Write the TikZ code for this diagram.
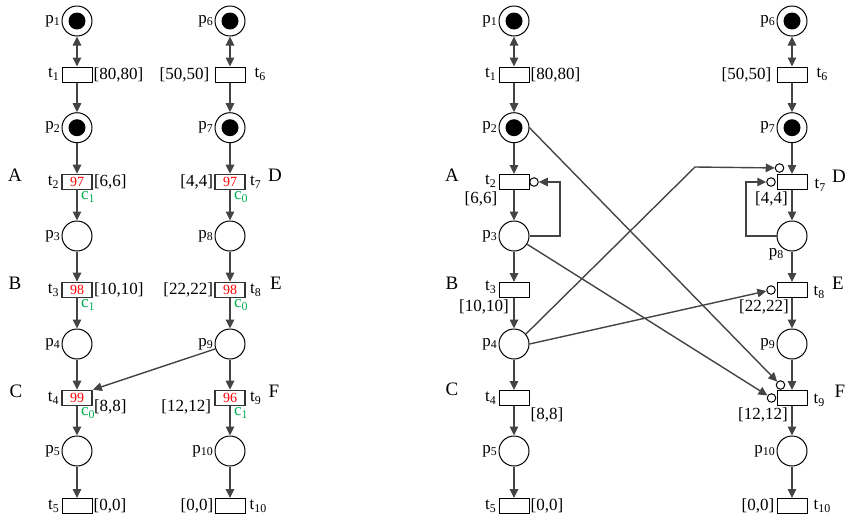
\documentclass[tikz,border=0pt]{standalone}
\usepackage{fontspec}
\setmainfont{Liberation Serif}
\usetikzlibrary{arrows.meta}
\definecolor{cgreen}{HTML}{00B050}
\definecolor{arcgray}{HTML}{444444}
\newcommand\pn[1]{p\textsubscript{#1}}
\newcommand\tn[1]{t\textsubscript{#1}}
\newcommand\cn[1]{c\textsubscript{#1}}
\begin{document}
\begin{tikzpicture}[x=1pt,y=-1pt,
  font=\fontsize{17}{20}\selectfont,
  place/.style={circle,draw,line width=1pt,minimum size=30pt,inner sep=0pt},
  tok/.style={place,path picture={\fill (path picture bounding box.center) circle (8.5pt);}},
  trans/.style={rectangle,draw,line width=1pt,minimum width=30pt,minimum height=15pt,inner sep=0pt},
  ctrans/.style={trans,draw=black!80,line width=1.7pt,font=\fontsize{14}{14}\selectfont,text=red},
  inh/.style={circle,draw,line width=1pt,minimum size=8.5pt,inner sep=0pt},
  arc/.style={draw=arcgray,line width=1.4pt,-{Triangle[length=9pt,width=8.5pt]}},
  darc/.style={draw=arcgray,line width=1.4pt,{Triangle[length=9pt,width=8.5pt]}-{Triangle[length=9pt,width=8.5pt]}},
  lab/.style={inner sep=1pt},
  big/.style={inner sep=0pt,font=\fontsize{19}{20}\selectfont},
  gr/.style={text=cgreen,inner sep=1pt,anchor=north west}
]
\useasboundingbox (0,0) rectangle (846,520);

% ================= LEFT NET =================
\node[tok]    (a1)  at (77,21) {};
\node[trans]  (at1) at (77,74.5) {};
\node[tok]    (a2)  at (77,127.7) {};
\node[ctrans] (at2) at (77,182) {97};
\node[place]  (a3)  at (77,236) {};
\node[ctrans] (at3) at (77,290) {98};
\node[place]  (a4)  at (77,344) {};
\node[ctrans] (at4) at (77,398) {99};
\node[place]  (a5)  at (77,451) {};
\node[trans]  (at5) at (77,506) {};

\node[tok]    (a6)  at (230,21) {};
\node[trans]  (at6) at (230,74.5) {};
\node[tok]    (a7)  at (230,127.7) {};
\node[ctrans] (at7) at (230,182) {97};
\node[place]  (a8)  at (230,236) {};
\node[ctrans] (at8) at (230,290) {98};
\node[place]  (a9)  at (230,344) {};
\node[ctrans] (at9) at (230,398) {96};
\node[place]  (a10) at (230,451) {};
\node[trans]  (at10) at (230,506) {};

% place labels
\foreach \i in {1,...,10} {\node[lab,anchor=east] at (a\i.west) {\pn{\i}};}
% transition labels, left column
\node[lab,anchor=east,xshift=-1pt] at (at1.west) {\tn1};
\node[lab,anchor=west] at (at1.east) {[80,80]};
\node[lab,anchor=east,xshift=-1pt] at (at2.west) {\tn2};
\node[lab,anchor=west] at (at2.east) {[6,6]};
\node[lab,anchor=east,xshift=-1pt] at (at3.west) {\tn3};
\node[lab,anchor=west] at (at3.east) {[10,10]};
\node[lab,anchor=east,xshift=-1pt] at (at4.west) {\tn4};
\node[lab,anchor=west,yshift=-9pt] at (at4.east) {[8,8]};
\node[lab,anchor=east,xshift=-1pt] at (at5.west) {\tn5};
\node[lab,anchor=west] at (at5.east) {[0,0]};
% transition labels, right column
\node[lab,anchor=east,xshift=-4pt] at (at6.west) {[50,50]};
\node[lab,anchor=west,xshift=8pt] at (at6.east) {\tn6};
\node[lab,anchor=east] at (at7.west) {[4,4]};
\node[lab,anchor=west,xshift=3pt] at (at7.east) {\tn7};
\node[lab,anchor=east] at (at8.west) {[22,22]};
\node[lab,anchor=west,xshift=3pt] at (at8.east) {\tn8};
\node[lab,anchor=east,xshift=-2pt,yshift=-9pt] at (at9.west) {[12,12]};
\node[lab,anchor=west,xshift=3pt] at (at9.east) {\tn9};
\node[lab,anchor=east] at (at10.west) {[0,0]};
\node[lab,anchor=west,xshift=3pt] at (at10.east) {\tn{10}};
% colour labels
\node[gr,xshift=3pt] at (at2.south) {\cn1};
\node[gr,xshift=3pt] at (at3.south) {\cn1};
\node[gr,xshift=3pt] at (at4.south) {\cn0};
\node[gr,xshift=3pt] at (at7.south) {\cn0};
\node[gr,xshift=3pt] at (at8.south) {\cn0};
\node[gr,xshift=3pt] at (at9.south) {\cn1};
% letters
\node[big] (lA) at (15,175) {A};
\node[big] (lB) at (15,283) {B};
\node[big] (lC) at (16,391) {C};
\node[big] (lD) at (275,175) {D};
\node[big] (lE) at (276,283) {E};
\node[big] (lF) at (274,391) {F};

% arcs
\draw[darc] (a1) -- (at1);
\draw[arc] (at1) -- (a2);
\draw[arc] (a2) -- (at2);
\draw[arc] (at2) -- (a3);
\draw[arc] (a3) -- (at3);
\draw[arc] (at3) -- (a4);
\draw[arc] (a4) -- (at4);
\draw[arc] (at4) -- (a5);
\draw[arc] (a5) -- (at5);
\draw[darc] (a6) -- (at6);
\draw[arc] (at6) -- (a7);
\draw[arc] (a7) -- (at7);
\draw[arc] (at7) -- (a8);
\draw[arc] (a8) -- (at8);
\draw[arc] (at8) -- (a9);
\draw[arc] (a9) -- (at9);
\draw[arc] (at9) -- (a10);
\draw[arc] (a10) -- (at10);
\draw[arc] (a9) -- (at4.north east);

% ================= RIGHT NET =================
\node[tok]   (b1)  at (514,21) {};
\node[trans] (bt1) at (514,74.5) {};
\node[tok]   (b2)  at (514,127.7) {};
\node[trans] (bt2) at (514,182) {};
\node[place] (b3)  at (514,236) {};
\node[trans] (bt3) at (514,290) {};
\node[place] (b4)  at (514,344) {};
\node[trans] (bt4) at (514,398) {};
\node[place] (b5)  at (514,451) {};
\node[trans] (bt5) at (514,506) {};

\node[tok]   (b6)  at (792,21) {};
\node[trans] (bt6) at (792,74.5) {};
\node[tok]   (b7)  at (792,127.7) {};
\node[trans] (bt7) at (792,182) {};
\node[place] (b8)  at (792,236) {};
\node[trans] (bt8) at (792,290) {};
\node[place] (b9)  at (792,344) {};
\node[trans] (bt9) at (792,398) {};
\node[place] (b10) at (792,451) {};
\node[trans] (bt10) at (792,506) {};

% inhibitor circles
\node[inh] (i2)  at (534,182) {};
\node[inh] (i7a) at (779.5,168) {};
\node[inh] (i7b) at (771,182) {};
\node[inh] (i8)  at (771,290) {};
\node[inh] (i9a) at (780.5,385) {};
\node[inh] (i9b) at (771.5,398) {};

% place labels
\foreach \i in {1,2,3,4,5,6,7,9,10} {\node[lab,anchor=east] at (b\i.west) {\pn{\i}};}
\node[lab,anchor=north east,xshift=4pt] at (b8.south west) {\pn8};
% transition labels
\node[lab,anchor=east,xshift=-1pt] at (bt1.west) {\tn1};
\node[lab,anchor=west] at (bt1.east) {[80,80]};
\node[lab,anchor=east,xshift=-1pt,yshift=1pt] at (bt2.west) {\tn2};
\node[lab,anchor=north east] at (bt2.south west) {[6,6]};
\node[lab,anchor=east,xshift=-1pt,yshift=3pt] at (bt3.west) {\tn3};
\node[lab,anchor=north east,xshift=-4pt] at (bt3.south) {[10,10]};
\node[lab,anchor=east,xshift=-1pt] at (bt4.west) {\tn4};
\node[lab,anchor=north west] at (bt4.south east) {[8,8]};
\node[lab,anchor=east,xshift=-1pt] at (bt5.west) {\tn5};
\node[lab,anchor=west] at (bt5.east) {[0,0]};
\node[lab,anchor=east,xshift=-4pt] at (bt6.west) {[50,50]};
\node[lab,anchor=west,xshift=8pt] at (bt6.east) {\tn6};
\node[lab,anchor=west,xshift=6pt,yshift=-3pt] at (bt7.east) {\tn7};
\node[lab,anchor=north east,xshift=-3pt] at (bt7.south) {[4,4]};
\node[lab,anchor=west,xshift=5pt,yshift=-2pt] at (bt8.east) {\tn8};
\node[lab,anchor=north east,xshift=-2pt] at (bt8.south) {[22,22]};
\node[lab,anchor=west,xshift=5pt,yshift=-2pt] at (bt9.east) {\tn9};
\node[lab,anchor=north east,xshift=-3pt] at (bt9.south) {[12,12]};
\node[lab,anchor=east,xshift=-1pt] at (bt10.west) {[0,0]};
\node[lab,anchor=west,xshift=5pt] at (bt10.east) {\tn{10}};
% letters
\node[big] (rA) at (452,175) {A};
\node[big] (rB) at (452,283) {B};
\node[big] (rC) at (452,389) {C};
\node[big] (rD) at (839,176) {D};
\node[big] (rE) at (838,283) {E};
\node[big] (rF) at (840,391) {F};

% bend points
\coordinate (k3) at (560,236);
\coordinate (k8) at (746,236);
\coordinate (k4) at (695,167);

% arcs
\draw[darc] (b1) -- (bt1);
\draw[arc] (bt1) -- (b2);
\draw[arc] (b2) -- (bt2);
\draw[arc] (bt2) -- (b3);
\draw[arc] (b3) -- (bt3);
\draw[arc] (bt3) -- (b4);
\draw[arc] (b4) -- (bt4);
\draw[arc] (bt4) -- (b5);
\draw[arc] (b5) -- (bt5);
\draw[darc] (b6) -- (bt6);
\draw[arc] (bt6) -- (b7);
\draw[arc] (b7) -- (bt7);
\draw[arc] (bt7) -- (b8);
\draw[arc] (b8) -- (bt8);
\draw[arc] (bt8) -- (b9);
\draw[arc] (b9) -- (bt9);
\draw[arc] (bt9) -- (b10);
\draw[arc] (b10) -- (bt10);

\draw[arc] (b3.east) -- (k3) |- (i2);
\draw[arc] (b8.west) -- (k8) |- (i7b);
\draw[arc] (b4.40) -- (k4) -- (i7a);
\draw[arc] (b4.east) -- (i8);
\draw[arc] (b2.east) -- (i9a);
\draw[arc] (b3) -- (i9b);
\end{tikzpicture}
\end{document}
